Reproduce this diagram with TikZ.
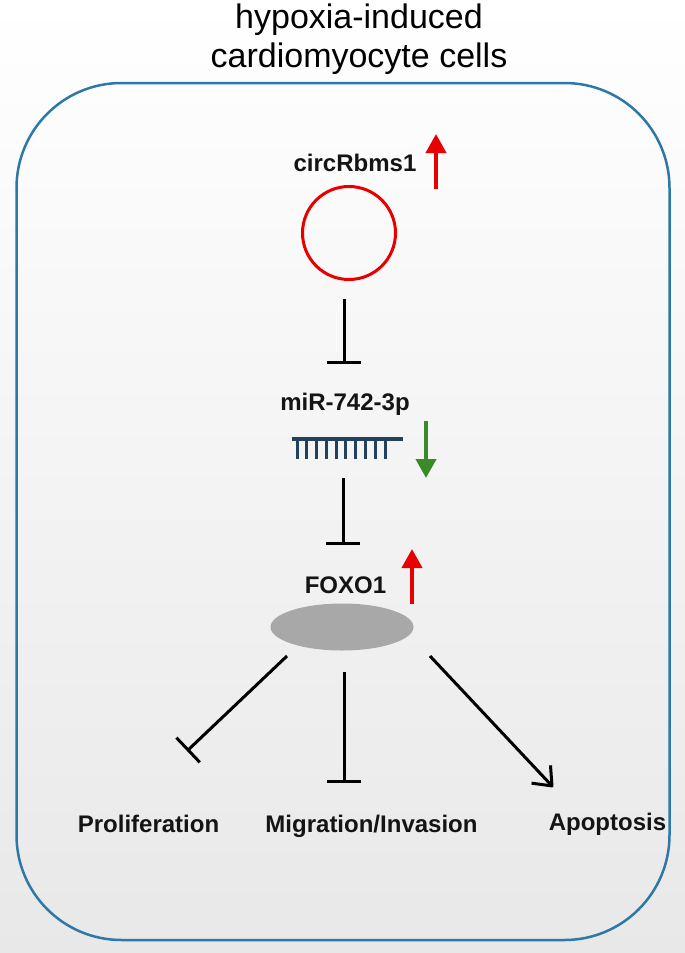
\documentclass[tikz,border=0pt]{standalone}
\usepackage{fontspec}
\setmainfont{Liberation Sans}
\usetikzlibrary{arrows.meta,shapes.geometric}
\definecolor{boxblue}{HTML}{2E78A8}
\definecolor{upred}{HTML}{E80000}
\definecolor{downgreen}{HTML}{3A8A2A}
\definecolor{mirblue}{HTML}{23405E}
\definecolor{foxgray}{HTML}{A8A8A8}
\tikzset{
  titletext/.style={anchor=base, font=\fontsize{34}{40}\selectfont, inner sep=0pt},
  label/.style={anchor=base, font=\fontsize{24}{28}\selectfont\bfseries, text=black!92, inner sep=0pt},
  cellbox/.style={draw=boxblue, line width=2.5pt, rounded corners=105pt},
  inhibit/.style={line width=3pt, -{Bar[width=34pt]}},
  activate/.style={line width=3pt, line join=round, -{Straight Barb[length=16pt, width=26pt, line join=round]}},
  uparrow/.style={draw=upred, line width=4pt, -{Triangle[length=19pt, width=20pt]}},
  downarrow/.style={draw=downgreen, line width=4pt, -{Triangle[length=19pt, width=20pt]}},
  mirna/.style={draw=mirblue, line width=3.5pt},
  tooth/.style={draw=mirblue, line width=3pt}
}
\begin{document}
\begin{tikzpicture}[x=1pt, y=-1pt]
\useasboundingbox (0,0) rectangle (685,953);
\shade[top color=white, bottom color=black!9] (0,0) rectangle (685,953);
\draw[cellbox] (16.5,83) rectangle (669.5,940);

% title
\node[titletext] (t1) at (359,28) {hypoxia-induced};
\node[titletext] (t2) at (359,67) {cardiomyocyte cells};

% circRbms1
\node[label] (lcirc) at (355,171) {circRbms1};
\coordinate (u1a) at (436,189);
\coordinate (u1b) at (436,134);
\draw[uparrow] (u1a) -- (u1b);
\node[circle, draw=upred, line width=3pt, minimum size=93pt, inner sep=0pt] (circ) at (349,233) {};

% inhibition circ -> miR
\coordinate (i1a) at (344,299);
\coordinate (i1b) at (344,364);
\draw[inhibit] (i1a) -- (i1b);

% miR-742-3p
\node[label] (lmir) at (345,410) {miR-742-3p};
\coordinate (mL) at (292,439);
\coordinate (mR) at (403,439);
\draw[mirna] (mL) -- (mR);
\foreach \i in {0,...,9} {
  \draw[tooth] ({297+9.78*\i},439) -- ({297+9.78*\i},459);
}
\coordinate (d1a) at (426,421);
\coordinate (d1b) at (426,478);
\draw[downarrow] (d1a) -- (d1b);

% inhibition miR -> FOXO1
\coordinate (i2a) at (343,478);
\coordinate (i2b) at (343,545);
\draw[inhibit] (i2a) -- (i2b);

% FOXO1
\node[label] (lfox) at (345.5,593) {FOXO1};
\coordinate (u2a) at (412,604);
\coordinate (u2b) at (412,549);
\draw[uparrow] (u2a) -- (u2b);
\node[ellipse, fill=foxgray, minimum width=143pt, minimum height=47pt, inner sep=0pt] (foxo) at (342,627) {};

% outcomes
\node[label] (prol) at (148.5,832) {Proliferation};
\node[label] (migr) at (371.5,832) {Migration/Invasion};
\node[label] (apop) at (607.5,830) {Apoptosis};

\coordinate (pA) at (287,656);
\coordinate (pB) at (187,751);
\draw[inhibit] (pA) -- (pB);
\coordinate (mA) at (344,672);
\coordinate (mB) at (344,783);
\draw[inhibit] (mA) -- (mB);
\coordinate (aA) at (430,656);
\coordinate (aB) at (553,787);
\draw[activate] (aA) -- (aB);
\end{tikzpicture}
\end{document}
